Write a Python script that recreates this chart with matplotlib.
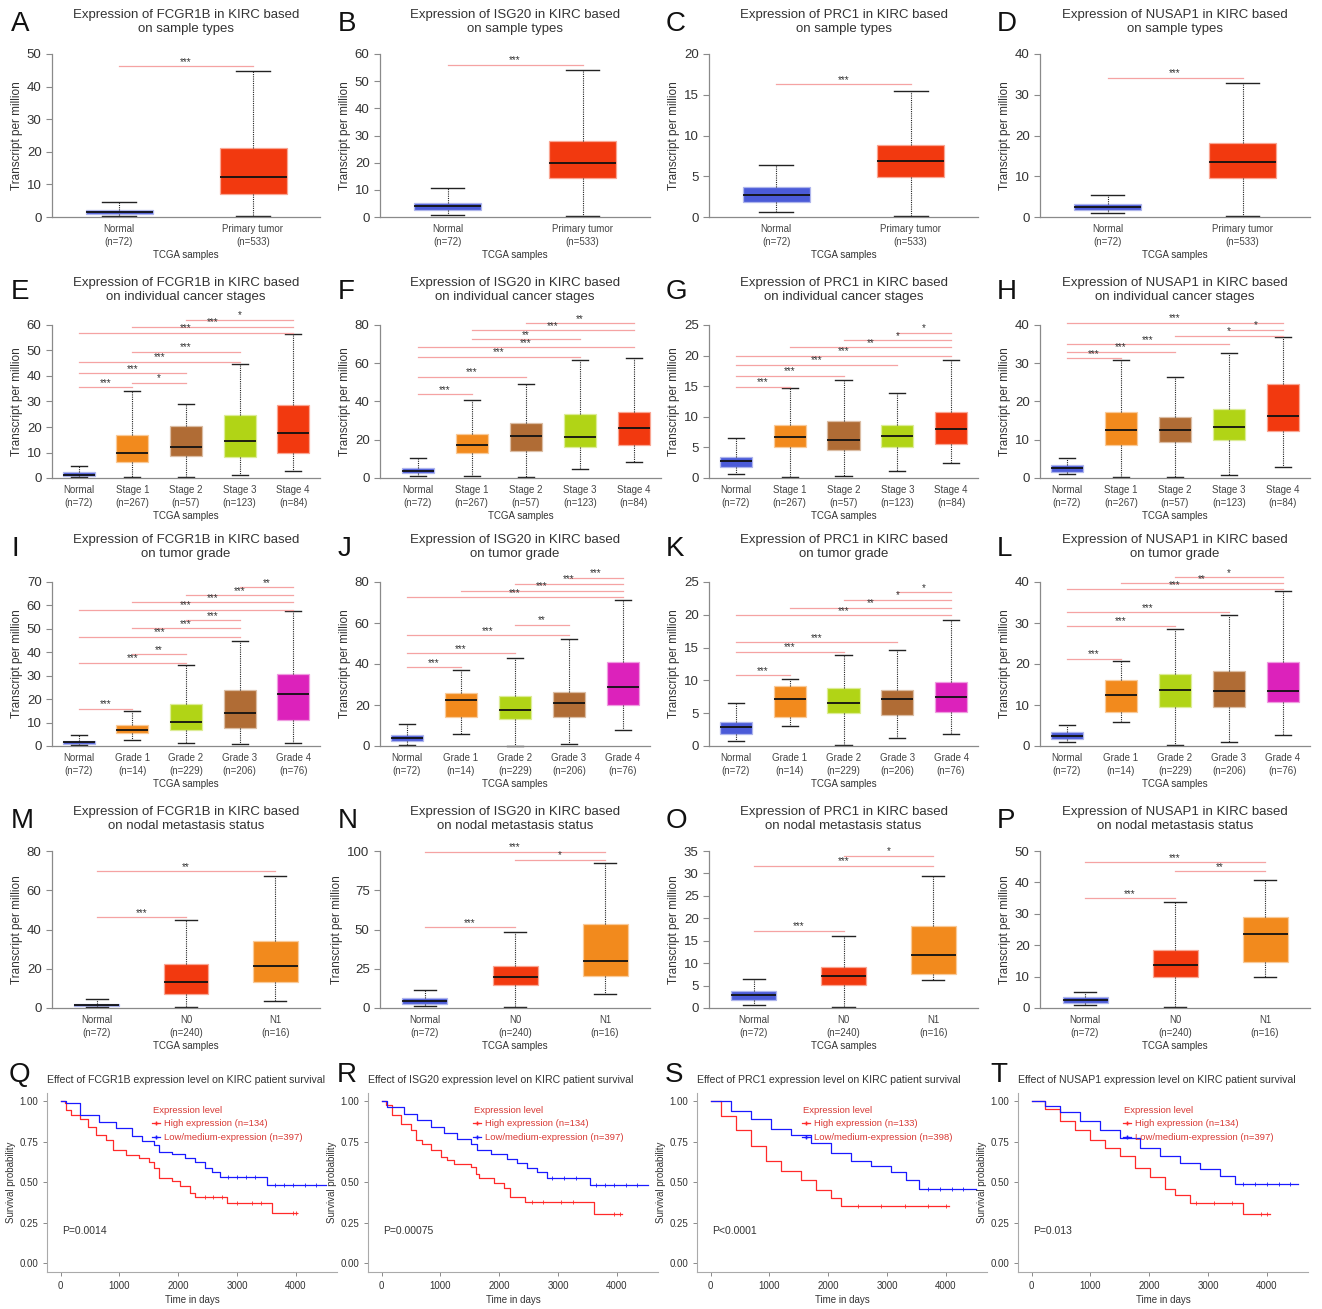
import matplotlib
matplotlib.use("Agg")
import matplotlib.pyplot as plt
import numpy as np
from matplotlib.colors import to_rgb

plt.rcParams['font.family'] = ['Liberation Sans', 'DejaVu Sans']

W, H = 1322, 1309
fig = plt.figure(figsize=(W / 100, H / 100), dpi=100)

# ---------------- data ----------------
genes = ["FCGR1B", "ISG20", "PRC1", "NUSAP1"]

sample_labels = ["Normal\n(n=72)", "Primary tumor\n(n=533)"]
stage_labels = ["Normal\n(n=72)", "Stage 1\n(n=267)", "Stage 2\n(n=57)", "Stage 3\n(n=123)", "Stage 4\n(n=84)"]
grade_labels = ["Normal\n(n=72)", "Grade 1\n(n=14)", "Grade 2\n(n=229)", "Grade 3\n(n=206)", "Grade 4\n(n=76)"]
nodal_labels = ["Normal\n(n=72)", "N0\n(n=240)", "N1\n(n=16)"]

# box stats: [whisker low, q1, median, q3, whisker high]
fcgr1b_sample = [[0.3, 0.8, 1.4, 2.2, 4.6], [0.4, 7.0, 12.4, 21.2, 44.8]]
isg20_sample = [[0.8, 2.6, 4.0, 5.3, 10.6], [0.3, 14.3, 19.9, 27.8, 54.0]]
prc1_sample = [[0.6, 1.8, 2.7, 3.7, 6.4], [0.1, 4.9, 6.9, 8.8, 15.4]]
nusap1_sample = [[1.0, 1.8, 2.5, 3.3, 5.3], [0.3, 9.6, 13.5, 18.2, 33.0]]

fcgr1b_stage = [[0.3, 0.8, 1.3, 2.2, 4.6], [0.4, 6.1, 9.8, 17.0, 34.3], [0.4, 8.5, 12.3, 20.5, 29.1],
                [1.2, 8.1, 14.7, 24.8, 44.6], [2.9, 9.8, 17.6, 28.7, 56.3]]
isg20_stage = [[1.0, 2.6, 3.8, 5.2, 10.6], [1.0, 13.0, 17.4, 23.0, 40.7], [0.3, 14.3, 21.7, 28.5, 49.0],
               [4.7, 16.0, 21.2, 33.4, 61.7], [8.2, 17.4, 25.9, 34.3, 63.0]]
prc1_stage = [[0.65, 1.85, 2.8, 3.5, 6.5], [0.15, 5.0, 6.75, 8.7, 14.65], [0.27, 4.6, 6.2, 9.25, 16.0],
              [1.2, 5.0, 6.8, 8.6, 13.9], [2.4, 5.6, 7.95, 10.85, 19.2]]
nusap1_stage = [[1.0, 1.65, 2.5, 3.3, 5.1], [0.26, 8.5, 12.6, 17.3, 30.8], [0.35, 9.4, 12.5, 15.9, 26.4],
                [0.87, 9.85, 13.3, 18.1, 32.7], [3.0, 12.2, 16.2, 24.7, 36.9]]

fcgr1b_grade = [[0.4, 1.0, 1.7, 2.3, 4.7], [2.4, 5.4, 6.7, 8.9, 14.9], [1.3, 6.7, 10.2, 18.0, 34.5],
                [0.7, 7.8, 14.2, 23.9, 45.0], [1.4, 11.2, 22.0, 30.7, 57.5]]
isg20_grade = [[0.65, 2.6, 3.9, 5.2, 10.6], [6.0, 14.1, 22.3, 26.0, 36.9], [0.16, 13.2, 17.4, 24.4, 43.1],
               [0.8, 14.3, 20.8, 26.5, 52.0], [7.6, 19.8, 28.6, 41.1, 71.1]]
prc1_grade = [[0.7, 1.8, 2.85, 3.6, 6.5], [3.1, 4.4, 7.1, 9.15, 10.2], [0.15, 5.1, 6.6, 8.85, 13.8],
              [1.16, 4.8, 7.1, 8.6, 14.7], [1.8, 5.2, 7.5, 9.8, 19.2]]
nusap1_grade = [[1.05, 1.8, 2.5, 3.3, 5.2], [5.75, 8.2, 12.4, 16.0, 20.7], [0.25, 9.5, 13.6, 17.65, 28.6],
                [0.9, 9.6, 13.45, 18.2, 31.9], [2.75, 10.7, 13.45, 20.6, 37.7]]

fcgr1b_nodal = [[0.3, 0.85, 1.5, 2.2, 4.7], [0.7, 7.3, 13.0, 22.4, 44.6], [3.6, 13.2, 21.5, 33.9, 67.5]]
isg20_nodal = [[1.3, 2.5, 4.5, 6.4, 11.5], [0.6, 14.6, 19.7, 26.7, 48.4], [8.9, 20.4, 29.9, 53.5, 92.4]]
prc1_nodal = [[0.7, 1.8, 2.9, 3.8, 6.5], [0.2, 5.1, 7.1, 9.1, 16.0], [6.2, 7.6, 11.8, 18.3, 29.4]]
nusap1_nodal = [[1.0, 1.6, 2.5, 3.5, 5.1], [0.3, 9.9, 13.7, 18.5, 33.8], [9.9, 14.6, 23.6, 29.0, 40.8]]

# significance bars: (group a, group b, height, stars)
fcgr1b_sample_sig = [(1, 2, 46.3, "***")]
isg20_sample_sig = [(1, 2, 56.0, "***")]
prc1_sample_sig = [(1, 2, 16.3, "***")]
nusap1_sample_sig = [(1, 2, 34.2, "***")]

fcgr1b_stage_sig = [(1, 2, 35.5, "***"), (2, 3, 37.3, "*"), (1, 3, 41.0, "***"), (1, 4, 45.6, "***"),
                    (2, 4, 49.5, "***"), (1, 5, 57.0, "***"), (2, 5, 59.3, "***"), (3, 5, 62.0, "*")]
isg20_stage_sig = [(1, 2, 43.8, "***"), (1, 3, 53.0, "***"), (1, 4, 63.3, "***"), (1, 5, 68.5, "***"),
                   (2, 4, 72.5, "**"), (2, 5, 77.4, "***"), (3, 5, 80.9, "**")]
prc1_stage_sig = [(1, 2, 14.9, "***"), (1, 3, 16.7, "***"), (1, 4, 18.5, "***"), (1, 5, 20.0, "***"),
                  (2, 5, 21.4, "**"), (3, 5, 22.5, "*"), (4, 5, 23.7, "*")]
nusap1_stage_sig = [(1, 2, 31.3, "***"), (1, 3, 33.0, "***"), (1, 4, 35.0, "***"), (3, 5, 37.2, "*"),
                    (4, 5, 38.8, "*"), (1, 5, 40.6, "***")]

fcgr1b_grade_sig = [(1, 2, 16.0, "***"), (1, 3, 35.6, "***"), (2, 3, 39.2, "**"), (1, 4, 46.6, "***"),
                    (2, 4, 50.3, "***"), (3, 4, 53.7, "***"), (1, 5, 58.1, "***"), (2, 5, 61.3, "***"),
                    (3, 5, 64.4, "***"), (4, 5, 67.8, "**")]
isg20_grade_sig = [(1, 2, 38.5, "***"), (1, 3, 45.4, "***"), (1, 4, 54.0, "***"), (3, 4, 59.2, "**"),
                   (1, 5, 72.5, "***"), (2, 5, 75.8, "***"), (3, 5, 79.2, "***"), (4, 5, 82.0, "***")]
prc1_grade_sig = [(1, 2, 10.8, "***"), (1, 3, 14.4, "***"), (1, 4, 15.8, "***"), (1, 5, 19.9, "***"),
                  (2, 5, 21.1, "**"), (3, 5, 22.3, "*"), (4, 5, 23.4, "*")]
nusap1_grade_sig = [(1, 2, 21.3, "***"), (1, 3, 29.3, "***"), (1, 4, 32.6, "***"), (1, 5, 38.2, "***"),
                    (2, 5, 39.7, "**"), (3, 5, 41.1, "*")]

fcgr1b_nodal_sig = [(1, 2, 46.3, "***"), (1, 3, 69.7, "**")]
isg20_nodal_sig = [(1, 2, 51.6, "***"), (2, 3, 94.3, "*"), (1, 3, 99.4, "***")]
prc1_nodal_sig = [(1, 2, 17.2, "***"), (1, 3, 31.7, "***"), (2, 3, 33.9, "*")]
nusap1_nodal_sig = [(1, 2, 35.0, "***"), (2, 3, 43.6, "**"), (1, 3, 46.5, "***")]

# survival curves (days, survival probability)
fcgr1b_hi_t = [0, 73, 100, 185, 325, 466, 606, 774, 886, 1110, 1335, 1504, 1588, 1672, 1896, 2036, 2205, 2289, 2822, 3590, 4028]
fcgr1b_hi_s = [1.0, 0.99, 0.945, 0.914, 0.887, 0.842, 0.79, 0.76, 0.698, 0.667, 0.647, 0.626, 0.585, 0.524, 0.509, 0.478, 0.431, 0.405, 0.37, 0.308, 0.308]
fcgr1b_lo_t = [0, 100, 325, 662, 942, 1223, 1391, 1588, 1672, 1896, 2121, 2289, 2457, 2569, 2710, 3512, 4505]
fcgr1b_lo_s = [1.0, 0.99, 0.914, 0.873, 0.832, 0.784, 0.754, 0.729, 0.688, 0.671, 0.647, 0.626, 0.585, 0.565, 0.530, 0.483, 0.483]
fcgr1b_hi_cens = [2450, 2600, 2750, 3000, 3250, 3400, 3950, 4000]
fcgr1b_lo_cens = [2850, 3000, 3150, 3300, 3650, 3800, 3950, 4150, 4350]

isg20_hi_t = [0, 73, 186, 328, 497, 582, 695, 836, 1006, 1119, 1232, 1514, 1599, 1655, 1910, 2079, 2192, 2446, 3616, 4085]
isg20_hi_s = [1.0, 0.973, 0.912, 0.861, 0.82, 0.762, 0.738, 0.697, 0.656, 0.635, 0.611, 0.594, 0.553, 0.523, 0.492, 0.461, 0.41, 0.379, 0.303, 0.303]
isg20_lo_t = [0, 100, 384, 610, 836, 1062, 1288, 1514, 1627, 1853, 2136, 2305, 2475, 2644, 2814, 3537, 4537]
isg20_lo_s = [1.0, 0.963, 0.922, 0.881, 0.84, 0.803, 0.768, 0.738, 0.697, 0.676, 0.645, 0.615, 0.584, 0.564, 0.523, 0.482, 0.482]
isg20_hi_cens = [2550, 2750, 3050, 3250, 3950, 4050]
isg20_lo_cens = [2900, 3100, 3300, 3650, 3800, 3950, 4150, 4350]

prc1_hi_t = [0, 186, 441, 695, 949, 1203, 1542, 1797, 2051, 2220, 4050]
prc1_hi_s = [1.0, 0.91, 0.82, 0.72, 0.63, 0.57, 0.51, 0.45, 0.40, 0.35, 0.35]
prc1_lo_t = [0, 356, 695, 1034, 1373, 1712, 2051, 2390, 2729, 3068, 3322, 3542, 4508]
prc1_lo_s = [1.0, 0.94, 0.89, 0.83, 0.79, 0.74, 0.68, 0.63, 0.60, 0.56, 0.51, 0.46, 0.46]
prc1_hi_cens = [2500, 2900, 3300, 3700, 4000]
prc1_lo_cens = [3700, 3900, 4100, 4300]

nusap1_hi_t = [0, 237, 492, 746, 1000, 1254, 1508, 1763, 2017, 2271, 2441, 2695, 3600, 4050]
nusap1_hi_s = [1.0, 0.95, 0.88, 0.82, 0.76, 0.71, 0.66, 0.59, 0.53, 0.46, 0.42, 0.37, 0.30, 0.30]
nusap1_lo_t = [0, 237, 492, 831, 1169, 1508, 1847, 2186, 2525, 2864, 3203, 3458, 4525]
nusap1_lo_s = [1.0, 0.97, 0.93, 0.88, 0.82, 0.77, 0.71, 0.66, 0.62, 0.58, 0.54, 0.49, 0.49]
nusap1_hi_cens = [2800, 3100, 3400, 3900, 4000]
nusap1_lo_cens = [3600, 3800, 4000, 4200, 4400]

surv_n_hi = [134, 134, 133, 134]
surv_n_lo = [397, 397, 398, 397]
surv_p = ["P=0.0014", "P=0.00075", "P<0.0001", "P=0.013"]

# ---------------- style ----------------
BLUE = "#4b5bd8"
RED = "#f2390f"
ORANGE = "#f28a1d"
BROWN = "#b06c35"
LIME = "#b1d416"
MAGENTA = "#dc22bb"
GREY = "#333333"
AXC = "#8a8a8a"

sample_colors = [BLUE, RED]
stage_colors = [BLUE, ORANGE, BROWN, LIME, RED]
grade_colors = [BLUE, ORANGE, LIME, BROWN, MAGENTA]
nodal_colors = [BLUE, RED, ORANGE]


def lighter(c, f=0.55):
    r, g, b = to_rgb(c)
    return (r + (1 - r) * f, g + (1 - g) * f, b + (1 - b) * f)


def px_axes(x0, y_top, x1, y_bot):
    return fig.add_axes([x0 / W, 1 - y_bot / H, (x1 - x0) / W, (y_bot - y_top) / H])


col_x = [(52, 320), (380, 650), (709, 978), (1040, 1310)]
row_y = [(54, 217), (325, 478), (582, 746), (851, 1008)]
title_top = [9, 277, 534, 806]
letter_x = [11, 338, 666, 997]
subtitles = ["on sample types", "on individual cancer stages", "on tumor grade", "on nodal metastasis status"]
# panel F sits a little further from its y axis
left_pad = {(1, 1): 0.7}

box_rows = [
    (sample_labels, sample_colors, [fcgr1b_sample, isg20_sample, prc1_sample, nusap1_sample],
     [fcgr1b_sample_sig, isg20_sample_sig, prc1_sample_sig, nusap1_sample_sig], [(50, 10), (60, 10), (20, 5), (40, 10)]),
    (stage_labels, stage_colors, [fcgr1b_stage, isg20_stage, prc1_stage, nusap1_stage],
     [fcgr1b_stage_sig, isg20_stage_sig, prc1_stage_sig, nusap1_stage_sig], [(60, 10), (80, 20), (25, 5), (40, 10)]),
    (grade_labels, grade_colors, [fcgr1b_grade, isg20_grade, prc1_grade, nusap1_grade],
     [fcgr1b_grade_sig, isg20_grade_sig, prc1_grade_sig, nusap1_grade_sig], [(70, 10), (80, 20), (25, 5), (40, 10)]),
    (nodal_labels, nodal_colors, [fcgr1b_nodal, isg20_nodal, prc1_nodal, nusap1_nodal],
     [fcgr1b_nodal_sig, isg20_nodal_sig, prc1_nodal_sig, nusap1_nodal_sig], [(80, 20), (100, 25), (35, 5), (50, 10)]),
]
letters = "ABCDEFGHIJKLMNOP"

for r, (labels, colors, stats_list, sig_list, yinfo) in enumerate(box_rows):
    for c in range(4):
        x0, x1 = col_x[c]
        yt, yb = row_y[r]
        n = len(labels)
        pad = left_pad.get((r, c), 0.5)
        if pad != 0.5:
            x1 = x0 + (x1 - x0) * (n + pad - 0.5) / n
        ax = px_axes(x0, yt, x1, yb)
        ymax, ystep = yinfo[c]
        bstats = [dict(whislo=s[0], q1=s[1], med=s[2], q3=s[3], whishi=s[4], fliers=[]) for s in stats_list[c]]
        width = 0.5 if n <= 3 else 0.6
        art = ax.bxp(bstats, positions=range(1, n + 1), widths=width, patch_artist=True, showfliers=False,
                     boxprops=dict(linewidth=0.9),
                     whiskerprops=dict(linestyle=(0, (1, 1)), linewidth=0.8, color="#222222"),
                     capprops=dict(linewidth=1.0, color="#222222"),
                     medianprops=dict(color="#111111", linewidth=1.3))
        for patch, col in zip(art["boxes"], colors):
            patch.set_facecolor(col)
            patch.set_edgecolor(lighter(col))
        for k in ("whiskers", "caps", "medians", "boxes"):
            for a in art[k]:
                a.set_clip_on(False)
        for a, b, yv, stars in sig_list[c]:
            ax.plot([a, b], [yv, yv], color="#f5a3a3", lw=0.9, clip_on=False)
            ax.text((a + b) / 2, yv - ymax * 0.004, stars, ha="center", va="bottom", fontsize=7,
                    color=GREY, clip_on=False)
        ax.set_xlim(1 - pad, n + 0.5)
        ax.set_ylim(0, ymax)
        ax.set_yticks(range(0, ymax + 1, ystep))
        ax.set_xticks(range(1, n + 1))
        ax.set_xticklabels(labels, fontsize=7, color="#444444", linespacing=1.35)
        ax.tick_params(axis="x", length=0, pad=5)
        ax.tick_params(axis="y", labelsize=9.5, labelcolor=GREY, color=AXC, length=4, width=0.8)
        for side in ("top", "right"):
            ax.spines[side].set_visible(False)
        for side in ("left", "bottom"):
            ax.spines[side].set_color(AXC)
            ax.spines[side].set_linewidth(0.9)
        ax.set_ylabel("Transcript per million", fontsize=8.5, color=GREY, labelpad=3)
        ax.set_xlabel("TCGA samples", fontsize=7, color=GREY, labelpad=2)
        x0c, x1c = col_x[c]
        fig.text((x0c + x1c) / 2 / W, 1 - title_top[r] / H,
                 "Expression of %s in KIRC based\n%s" % (genes[c], subtitles[r]),
                 ha="center", va="top", fontsize=9.5, color=GREY, linespacing=1.2)
        fig.text(letter_x[c] / W, 1 - (title_top[r] + 2) / H, letters[r * 4 + c],
                 ha="left", va="top", fontsize=20, color="#111111")

# ---------------- survival panels ----------------
surv_hi = [(fcgr1b_hi_t, fcgr1b_hi_s, fcgr1b_hi_cens), (isg20_hi_t, isg20_hi_s, isg20_hi_cens),
           (prc1_hi_t, prc1_hi_s, prc1_hi_cens), (nusap1_hi_t, nusap1_hi_s, nusap1_hi_cens)]
surv_lo = [(fcgr1b_lo_t, fcgr1b_lo_s, fcgr1b_lo_cens), (isg20_lo_t, isg20_lo_s, isg20_lo_cens),
           (prc1_lo_t, prc1_lo_s, prc1_lo_cens), (nusap1_lo_t, nusap1_lo_s, nusap1_lo_cens)]
surv_left = [47, 368, 697, 1018]
surv_letter_x = [9, 337, 665, 990]
LEG_RED = "#d83a35"
HI_COL = "#ff2a2a"
LO_COL = "#1a1aff"

for c in range(4):
    x0 = surv_left[c]
    ax = px_axes(x0, 1093, x0 + 290, 1272)
    for (t, s, cens), col in ((surv_hi[c], HI_COL), (surv_lo[c], LO_COL)):
        ax.plot(t, s, drawstyle="steps-post", color=col, lw=0.9)
        idx = np.searchsorted(t, cens, side="right") - 1
        ax.plot(cens, np.array(s)[idx], ls="none", marker="+", ms=2.5, mew=0.6, color=col)
    ax.set_xlim(-230, 4700)
    ax.set_ylim(-0.055, 1.05)
    ax.set_xticks([0, 1000, 2000, 3000, 4000])
    ax.set_yticks([0, 0.25, 0.5, 0.75, 1.0])
    ax.set_yticklabels(["0.00", "0.25", "0.50", "0.75", "1.00"])
    ax.tick_params(labelsize=7, labelcolor=GREY, color=AXC, length=3, width=0.7)
    for side in ("top", "right"):
        ax.spines[side].set_visible(False)
    for side in ("left", "bottom"):
        ax.spines[side].set_color("#aaaaaa")
        ax.spines[side].set_linewidth(0.8)
    ax.set_ylabel("Survival probability", fontsize=7, color=GREY, labelpad=2)
    ax.set_xlabel("Time in days", fontsize=7, color=GREY, labelpad=3)
    ax.text(20, 0.20, surv_p[c], fontsize=7.5, color=GREY, ha="left", va="center")
    ax.text(1580, 0.945, "Expression level", fontsize=6.8, color=LEG_RED, ha="left", va="center")
    ax.plot([1560, 1690], [0.862, 0.862], color=HI_COL, lw=0.9)
    ax.plot([1625], [0.862], marker="+", ms=3, color=HI_COL)
    ax.text(1760, 0.862, "High expression (n=%d)" % surv_n_hi[c], fontsize=6.8, color=LEG_RED, ha="left", va="center")
    ax.plot([1560, 1690], [0.778, 0.778], color=LO_COL, lw=0.9)
    ax.plot([1625], [0.778], marker="+", ms=3, color=LO_COL)
    ax.text(1760, 0.778, "Low/medium-expression (n=%d)" % surv_n_lo[c], fontsize=6.8, color=LEG_RED, ha="left", va="center")
    fig.text(x0 / W, 1 - 1080 / H, "Effect of %s expression level on KIRC patient survival" % genes[c],
             ha="left", va="center", fontsize=7.6, color=GREY)
    fig.text(surv_letter_x[c] / W, 1 - 1062 / H, "QRST"[c], ha="left", va="top", fontsize=20, color="#111111")

fig.savefig("out.png", dpi=100)
